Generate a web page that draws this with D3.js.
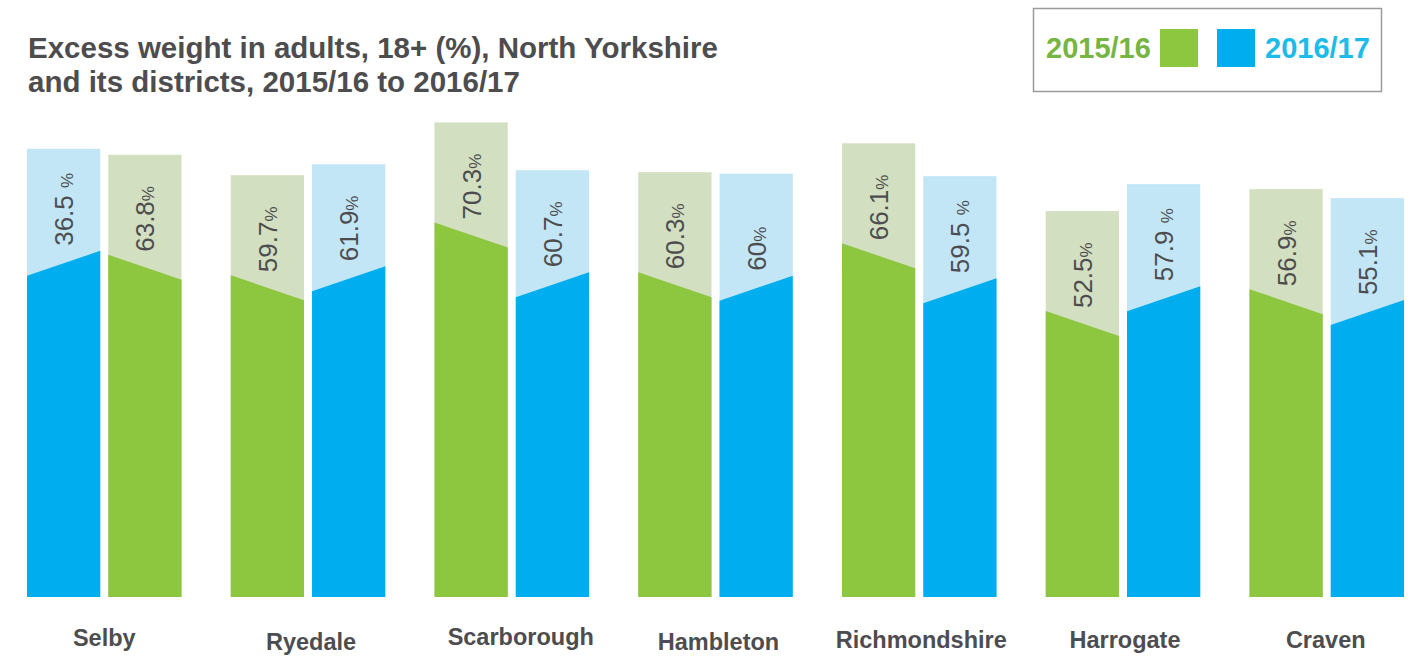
<!DOCTYPE html>
<html><head><meta charset="utf-8">
<script src="https://cdn.jsdelivr.net/npm/d3@7/dist/d3.min.js"></script>
<style>body{margin:0;background:#fff} svg{display:block}</style>
</head><body>
<svg id="c" width="1420" height="656"></svg>
<script>
// ---- data ----
const categories = ["Selby","Ryedale","Scarborough","Hambleton","Richmondshire","Harrogate","Craven"];
const seriesNames = ["2015/16","2016/17"];
// bar heights as drawn in the picture
const values1516 = [63.8, 59.7, 70.3, 60.3, 66.1, 52.5, 56.9];
const values1617 = [65.0, 61.9, 60.7, 60.0, 59.5, 57.9, 55.1];
// printed labels
const labels1516 = ["63.8%", "59.7%", "70.3%", "60.3%", "66.1%", "52.5%", "56.9%"];
const labels1617 = ["36.5 %", "61.9%", "60.7%", "60%", "59.5 %", "57.9 %", "55.1%"];
// which series is drawn first in each group
const firstSeries = ["2016/17","2015/16","2015/16","2015/16","2015/16","2015/16","2015/16"];
const titleLines = ["Excess weight in adults, 18+ (%), North Yorkshire", "and its districts, 2015/16 to 2016/17"];

// ---- styles ----
const col = {
  "2015/16": {dark:"#8dc63f", light:"#d2dfc0", text:"#77b543"},
  "2016/17": {dark:"#00aeef", light:"#c3e6f6", text:"#1dbbe9"}
};
const textGray = "#4d4d4f";
const FONT = "'Liberation Sans', Arial, Helvetica, sans-serif";
const catLabelNudge = [[0,-2],[3,2],[9,-3],[3,2],[2,0],[2,0],[-1,0]];

const svg = d3.select("#c");
const base = 597;
const y = d3.scaleLinear().domain([-25, 75]).range([base, 99]);
const x0 = d3.scaleBand().domain(categories).range([27, 1404]).paddingInner(0.2415).paddingOuter(0);
const x1 = d3.scaleBand().domain([0, 1]).range([0, x0.bandwidth()]).paddingInner(0.0985);

const rows = [];
categories.forEach((c, i) => {
  const order = firstSeries[i] === "2015/16" ? ["2015/16","2016/17"] : ["2016/17","2015/16"];
  order.forEach((s, k) => {
    rows.push({
      cat: c, series: s, pos: k,
      value: s === "2015/16" ? values1516[i] : values1617[i],
      label: s === "2015/16" ? labels1516[i] : labels1617[i]
    });
  });
});

const g = svg.append("g");
const bars = g.selectAll("g.bar").data(rows).join("g").attr("class","bar");

bars.append("rect")
  .attr("x", d => x0(d.cat) + x1(d.pos))
  .attr("y", d => y(d.value))
  .attr("width", x1.bandwidth())
  .attr("height", d => base - y(d.value))
  .attr("fill", d => col[d.series].light);

bars.append("path")
  .attr("fill", d => col[d.series].dark)
  .attr("d", d => {
    const xa = x0(d.cat) + x1(d.pos), xb = xa + x1.bandwidth();
    const t = y(d.value);
    const yl = d.series === "2015/16" ? t + 100 : t + 127;
    const yr = d.series === "2015/16" ? t + 125 : t + 102;
    return `M${xa},${yl}L${xb},${yr}L${xb},${base}L${xa},${base}Z`;
  });

const lab = bars.append("text")
  .attr("transform", d => {
    const cx = x0(d.cat) + x1(d.pos) + x1.bandwidth() / 2 + 9.5;
    return `translate(${cx},${y(d.value) + 97}) rotate(-90)`;
  })
  .attr("text-anchor", "start")
  .attr("font-family", FONT)
  .attr("fill", textGray);
lab.append("tspan").attr("font-size", 26).text(d => d.label.replace("%", ""));
lab.append("tspan").attr("font-size", 17).text("%");

// category labels
svg.append("g").selectAll("text").data(categories).join("text")
  .attr("x", (d, i) => x0(d) + x0.bandwidth() / 2 + catLabelNudge[i][0])
  .attr("y", (d, i) => 648 + catLabelNudge[i][1])
  .attr("text-anchor", "middle")
  .attr("font-family", FONT)
  .attr("font-weight", "bold")
  .attr("font-size", 23.5)
  .attr("fill", textGray)
  .text(d => d);

// title
svg.append("g").selectAll("text").data(titleLines).join("text")
  .attr("x", 28)
  .attr("y", (d, i) => 58 + i * 34)
  .attr("font-family", FONT)
  .attr("font-weight", "bold")
  .attr("font-size", 29.5)
  .attr("fill", textGray)
  .text(d => d);

// legend
const lg = svg.append("g");
lg.append("rect").attr("x", 1033.5).attr("y", 8.5).attr("width", 348).attr("height", 83)
  .attr("fill", "none").attr("stroke", "#9a9a9a").attr("stroke-width", 1.5);
lg.append("text").attr("x", 1046).attr("y", 58).attr("font-family", FONT).attr("font-weight", "bold")
  .attr("font-size", 29).attr("fill", col["2015/16"].text).text(seriesNames[0]);
lg.append("rect").attr("x", 1160).attr("y", 29).attr("width", 38).attr("height", 38).attr("fill", col["2015/16"].dark);
lg.append("rect").attr("x", 1217).attr("y", 29).attr("width", 38).attr("height", 38).attr("fill", col["2016/17"].dark);
lg.append("text").attr("x", 1265).attr("y", 58).attr("font-family", FONT).attr("font-weight", "bold")
  .attr("font-size", 29).attr("fill", col["2016/17"].text).text(seriesNames[1]);
</script>
</body></html>
